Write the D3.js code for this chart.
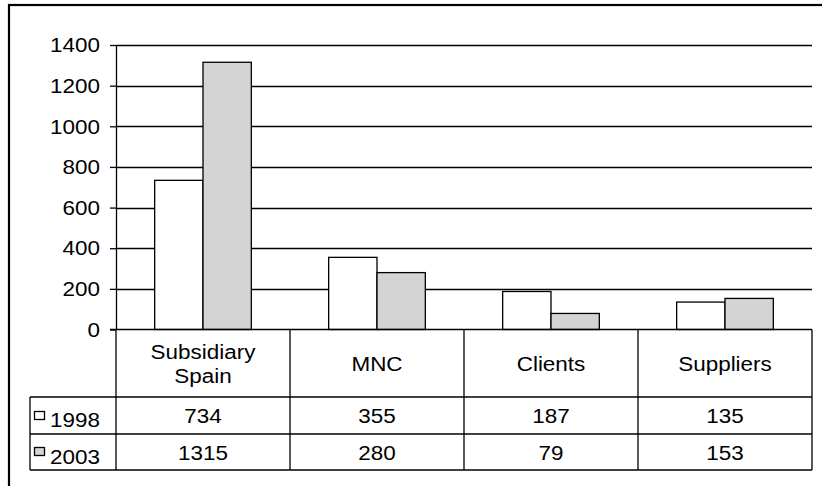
<!DOCTYPE html>
<html><head><meta charset="utf-8">
<script src="https://cdn.jsdelivr.net/npm/d3@7"></script>
<style>
html,body{margin:0;padding:0;background:#fff;}
svg{display:block;font-family:"Liberation Sans",Arial,sans-serif;}
</style></head>
<body>
<svg id="chart" width="822" height="486"></svg>
<script>
const categories = ["Subsidiary\nSpain", "MNC", "Clients", "Suppliers"];
const seriesNames = ["1998", "2003"];
const values1998 = [734, 355, 187, 135];
const values2003 = [1315, 280, 79, 153];
const yTicks = [0, 200, 400, 600, 800, 1000, 1200, 1400];
const seriesFill = ["#ffffff", "#d4d4d4"];

(function () {
const seriesValues = [values1998, values2003];
const svg = d3.select("#chart");
const fs = 21, sx = 1.07;

function addText(px, py, str, anchor) {
  return svg.append("text")
    .attr("transform", `translate(${px},${py}) scale(${sx},1)`)
    .attr("text-anchor", anchor || "middle")
    .attr("font-size", fs).attr("fill", "#000").text(str);
}

// outer frame (extends beyond the visible area on right and bottom)
svg.append("rect").attr("x", 9).attr("y", 5).attr("width", 900).attr("height", 600)
  .attr("fill", "#fff").attr("stroke", "#000").attr("stroke-width", 2.2);

const pLeft = 116, pRight = 812, pTop = 45, pBottom = 329.5;
const y = d3.scaleLinear().domain([0, 1400]).range([pBottom, pTop]);
const x = d3.scaleBand().domain(categories).range([pLeft, pRight]).padding(0);
const xs = d3.scaleBand().domain(seriesNames).range([0, x.bandwidth()]).paddingInner(0).paddingOuter(0.8);

// gridlines
svg.append("g").selectAll("line").data(yTicks.filter(d => d > 0)).join("line")
  .attr("x1", pLeft).attr("x2", pRight)
  .attr("y1", d => Math.round(y(d)) + 0.5).attr("y2", d => Math.round(y(d)) + 0.5)
  .attr("stroke", "#000").attr("stroke-width", 1.3);

// y axis
const yAxis = svg.append("g").attr("transform", `translate(${pLeft},0)`)
  .call(d3.axisLeft(y).tickValues(yTicks).tickFormat(d3.format("d"))
    .tickSize(6).tickPadding(9).tickSizeOuter(0));
yAxis.select(".domain").attr("stroke", "#000").attr("stroke-width", 1.3);
yAxis.selectAll(".tick line").attr("stroke", "#000").attr("stroke-width", 1.3);
yAxis.selectAll(".tick text").attr("font-size", fs).attr("fill", "#000")
  .attr("font-family", "'Liberation Sans',Arial,sans-serif")
  .attr("transform", `scale(${sx},1)`);

// bars
seriesNames.forEach((s, si) => {
  svg.append("g").selectAll("rect").data(categories).join("rect")
    .attr("x", c => x(c) + xs(s))
    .attr("y", (c, i) => y(seriesValues[si][i]))
    .attr("width", xs.bandwidth())
    .attr("height", (c, i) => pBottom - y(seriesValues[si][i]))
    .attr("fill", seriesFill[si]).attr("stroke", "#000").attr("stroke-width", 1.3);
});

// data table
const rowTop = [397, 434];
const rowBot = 470;
const legLeft = 30;
const tbl = svg.append("g").attr("stroke", "#000").attr("stroke-width", 1.3);
tbl.append("line").attr("x1", pLeft - 6).attr("x2", pRight).attr("y1", pBottom).attr("y2", pBottom);
[rowTop[0], rowTop[1], rowBot].forEach(yy => {
  tbl.append("line").attr("x1", legLeft).attr("x2", pRight).attr("y1", yy).attr("y2", yy);
});
categories.forEach(c => {
  tbl.append("line").attr("x1", x(c)).attr("x2", x(c)).attr("y1", pBottom).attr("y2", rowBot);
});
tbl.append("line").attr("x1", pRight).attr("x2", pRight).attr("y1", pBottom).attr("y2", rowBot);
tbl.append("line").attr("x1", legLeft).attr("x2", legLeft).attr("y1", rowTop[0]).attr("y2", rowBot);

// header labels
categories.forEach(c => {
  const lines = c.split("\n");
  const cx = x(c) + x.bandwidth() / 2;
  const mid = (pBottom + rowTop[0]) / 2;
  const lh = 24;
  lines.forEach((ln, k) => {
    addText(cx, mid + 7.5 + (k - (lines.length - 1) / 2) * lh, ln);
  });
});

// values + legend keys
seriesNames.forEach((s, si) => {
  const base = si === 0 ? 423 : 460;
  categories.forEach((c, i) => {
    addText(x(c) + x.bandwidth() / 2, base, seriesValues[si][i]);
  });
  svg.append("rect").attr("x", 34.5).attr("y", (si === 0 ? 411.5 : 447.5))
    .attr("width", 10).attr("height", 8)
    .attr("fill", seriesFill[si]).attr("stroke", "#000").attr("stroke-width", 1.3);
  addText(50, si === 0 ? 427 : 464, s, "start");
});
})();
</script>
</body></html>
